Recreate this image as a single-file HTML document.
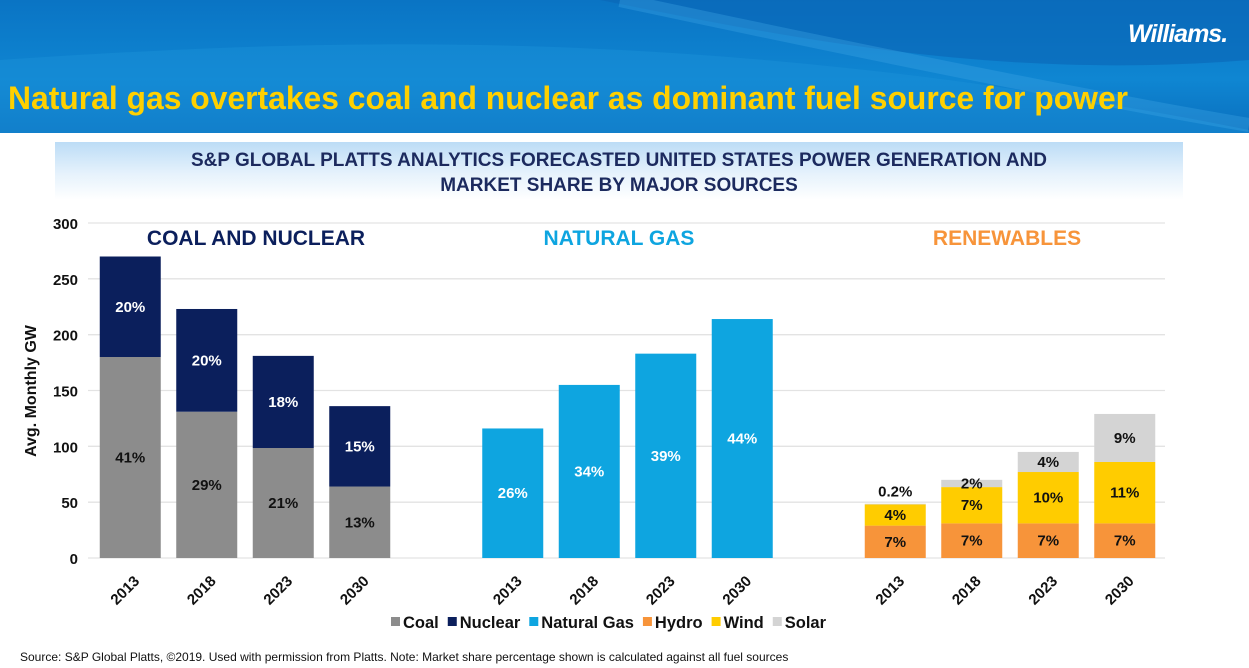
<!DOCTYPE html>
<html><head><meta charset="utf-8">
<style>
body{margin:0;width:1249px;height:668px;overflow:hidden;background:#fff;font-family:"Liberation Sans",Arial,sans-serif;}
#hdr{position:absolute;left:0;top:0;width:1249px;height:133px;background:linear-gradient(180deg,#0a74c4 0%,#0f86d2 60%,#0a6fbe 100%);overflow:hidden;}
#title{position:absolute;left:8px;top:80px;font-weight:bold;font-size:32px;color:#ffd000;white-space:nowrap;transform-origin:left top;transform:scaleX(0.995);}
#logo{position:absolute;left:1128px;top:20px;color:#fff;font-weight:bold;font-style:italic;font-size:25px;letter-spacing:-1px;}
#sub{position:absolute;left:55px;top:142px;width:1128px;height:58px;background:linear-gradient(180deg,#bcdcf6 0%,#e6f2fc 55%,#ffffff 100%);text-align:center;color:#1c2a5e;font-weight:bold;font-size:19px;line-height:25px;padding-top:6px;box-sizing:border-box;}
#src{position:absolute;left:20px;top:650px;font-size:12px;color:#111;}
</style></head><body>
<div id="hdr">
<svg width="1249" height="133" style="position:absolute;left:0;top:0">
<path d="M600,0 C800,40 1000,80 1249,60 L1249,0 Z" fill="#0a66b5" opacity="0.6"/>
<path d="M0,60 C300,40 700,20 1249,130 L1249,133 L0,133 Z" fill="#1a8fd8" opacity="0.5"/>
<path d="M620,0 C900,60 1100,100 1249,125" stroke="#3fa6e4" stroke-width="14" fill="none" opacity="0.35"/>
</svg>
<div id="logo">Williams.</div>
<div id="title">Natural gas overtakes coal and nuclear as dominant fuel source for power</div>
</div>
<div id="sub">S&amp;P GLOBAL PLATTS ANALYTICS FORECASTED UNITED STATES POWER GENERATION AND<br>MARKET SHARE BY MAJOR SOURCES</div>
<svg id="chart" width="1249" height="668" style="position:absolute;left:0;top:0"></svg>
<div id="src">Source: S&amp;P Global Platts, ©2019. Used with permission from Platts. Note: Market share percentage shown is calculated against all fuel sources</div>
<script>
const years=["2013","2018","2023","2030"];
const coal=[180,131,98.5,64];
const nuclear=[90,92,82.5,72];
const gas=[116,155,183,214];
const hydro=[29,31,31,31];
const wind=[19,32.5,46,55];
const solar=[0.6,6.5,18,43];
const coalPct=["41%","29%","21%","13%"];
const nucPct=["20%","20%","18%","15%"];
const gasPct=["26%","34%","39%","44%"];
const hydroPct=["7%","7%","7%","7%"];
const windPct=["4%","7%","10%","11%"];
const solarPct=["0.2%","2%","4%","9%"];
const yTicks=[0,50,100,150,200,250,300];
const legendNames=["Coal","Nuclear","Natural Gas","Hydro","Wind","Solar"];
const legendColors=["#8c8c8c","#0b1f5c","#0ea5e0","#f7943a","#ffcc00","#d4d4d4"];

const svg=document.getElementById('chart');const NS="http://www.w3.org/2000/svg";
function el(t,a,p){const e=document.createElementNS(NS,t);for(const k in a)e.setAttribute(k,a[k]);(p||svg).appendChild(e);return e;}
const y=v=>558-v*(335/300);
const slot=76.5,x0=92;
const xc=i=>x0+slot*(i+0.5);
const bw=61;
yTicks.forEach(t=>{
 const g=el('line',{x1:88,x2:1165,y1:y(t),y2:y(t),stroke:'#e3e3e3','stroke-width':1.3});
 
 
 const tx=el('text',{x:78,y:y(t)+6,'text-anchor':'end','font-size':15,'font-weight':'bold',fill:'#111'});tx.textContent=t;
 
 
});
const yt=el('text',{transform:'translate(36,391) rotate(-90)','text-anchor':'middle','font-size':16,'font-weight':'bold',fill:'#111'});yt.textContent='Avg.  Monthly GW';


function seg(i,lo,v,col,lab,tc,ly){
 const r=el('rect',{x:xc(i)-bw/2,y:y(lo+v),width:bw,height:y(lo)-y(lo+v),fill:col});
 
 
 const t=el('text',{x:xc(i),y:(ly!==undefined?ly:(y(lo)+y(lo+v))/2+5),'text-anchor':'middle','font-size':15,'font-weight':'bold',fill:tc});t.textContent=lab;
 
 
}
years.forEach((yr,k)=>{
 seg(k,0,coal[k],legendColors[0],coalPct[k],'#111');
 seg(k,coal[k],nuclear[k],legendColors[1],nucPct[k],'#fff');
 seg(k+5,0,gas[k],legendColors[2],gasPct[k],'#fff');
 seg(k+10,0,hydro[k],legendColors[3],hydroPct[k],'#111');
 seg(k+10,hydro[k],wind[k],legendColors[4],windPct[k],'#111');
 const s=hydro[k]+wind[k];
 seg(k+10,s,solar[k],legendColors[5],solarPct[k],'#111',k==0?y(s)-8:undefined);
 [k,k+5,k+10].forEach(i=>{
  const t=el('text',{transform:`translate(${xc(i)+10},${582}) rotate(-45)`,'text-anchor':'end','font-size':15,'font-weight':'bold',fill:'#111'});t.textContent=yr;
  
  
 });
});
[["COAL AND NUCLEAR",256,'#0b1f5c'],["NATURAL GAS",619,'#0ea5e0'],["RENEWABLES",1007,'#f7943a']].forEach(g=>{
 const t=el('text',{x:g[1],y:245,'text-anchor':'middle','font-size':21,'font-weight':'bold',fill:g[2]});t.textContent=g[0];
 
 
});
let lx=391;
legendNames.forEach((n,i)=>{
 const r=el('rect',{x:lx,y:617,width:9,height:9,fill:legendColors[i]});
 
 
 const t=el('text',{x:lx+12,y:628,'font-size':16.5,'font-weight':'bold',fill:'#111'});t.textContent=n;
 
 
 lx+=12+t.getComputedTextLength()+9;
});
</script>
</body></html>
